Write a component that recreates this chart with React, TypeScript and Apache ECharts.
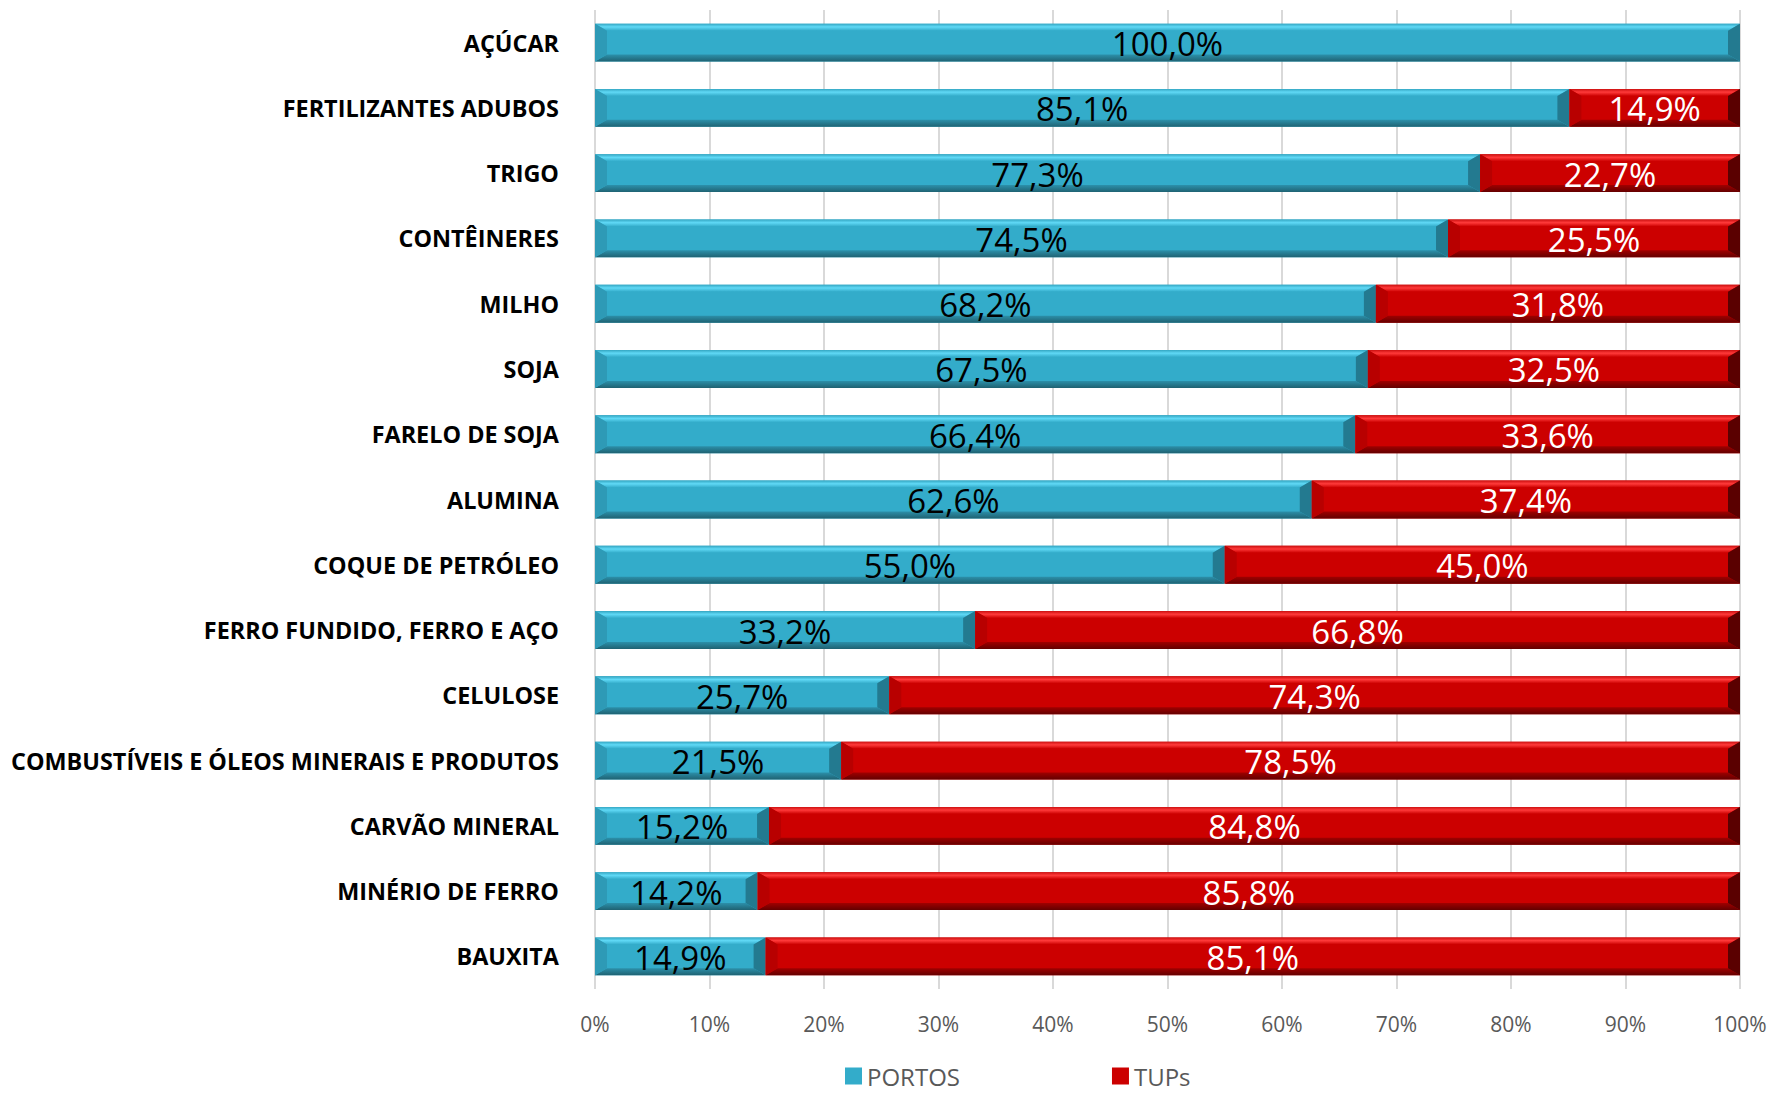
import React, { useEffect, useRef } from "react";
import * as echarts from "echarts";

const categories = [
  "AÇÚCAR",
  "FERTILIZANTES ADUBOS",
  "TRIGO",
  "CONTÊINERES",
  "MILHO",
  "SOJA",
  "FARELO DE SOJA",
  "ALUMINA",
  "COQUE DE PETRÓLEO",
  "FERRO FUNDIDO, FERRO E AÇO",
  "CELULOSE",
  "COMBUSTÍVEIS E ÓLEOS MINERAIS E PRODUTOS",
  "CARVÃO MINERAL",
  "MINÉRIO DE FERRO",
  "BAUXITA",
];
const portos = [100.0, 85.1, 77.3, 74.5, 68.2, 67.5, 66.4, 62.6, 55.0, 33.2, 25.7, 21.5, 15.2, 14.2, 14.9];
const tups = [0, 14.9, 22.7, 25.5, 31.8, 32.5, 33.6, 37.4, 45.0, 66.8, 74.3, 78.5, 84.8, 85.8, 85.1];
const xTicks = [0, 10, 20, 30, 40, 50, 60, 70, 80, 90, 100];

const FONT = "'Open Sans', 'DejaVu Sans', sans-serif";
const fmt = (v: number) => v.toFixed(1).replace(".", ",") + "%";

type Pal = { center: string; topHi: string; topLo: string; botHi: string; botLo: string; left: string; right: string; text: string };
const BLUE: Pal = {
  center: "#33acca",
  topHi: "#34a6c2",
  topLo: "#60d9f6",
  botHi: "#2c90aa",
  botLo: "#1f6272",
  left: "#2e9ab6",
  right: "#237a90",
  text: "#000000",
};
const RED: Pal = {
  center: "#cc0000",
  topHi: "#cc1010",
  topLo: "#ff3a3a",
  botHi: "#a00000",
  botLo: "#640000",
  left: "#b80000",
  right: "#5a0000",
  text: "#ffffff",
};

function makeRender(pal: Pal) {
  return (params: any, api: any) => {
    const idx = api.value(0);
    const base = api.value(1);
    const val = api.value(2);
    if (!(val > 0)) return { type: "group", children: [] };
    const p0 = api.coord([base, idx]);
    const p1 = api.coord([base + val, idx]);
    const h = api.size([0, 1])[1] * 0.58;
    const x0 = p0[0];
    const x1 = p1[0];
    const y0 = p0[1] - h / 2;
    const y1 = p0[1] + h / 2;
    const w = x1 - x0;
    const bx = Math.min(12, w / 2);
    const by = 7;
    return {
      type: "group",
      children: [
        { type: "rect", shape: { x: x0, y: y0, width: w, height: h }, style: { fill: pal.center } },
        {
          type: "polygon",
          shape: { points: [[x0, y0], [x1, y0], [x1 - bx, y0 + by], [x0 + bx, y0 + by]] },
          style: {
            fill: new echarts.graphic.LinearGradient(0, 0, 0, 1, [
              { offset: 0, color: pal.topHi },
              { offset: 0.45, color: pal.topLo },
              { offset: 1, color: pal.center },
            ]),
          },
        },
        {
          type: "polygon",
          shape: { points: [[x0, y1], [x1, y1], [x1 - bx, y1 - by], [x0 + bx, y1 - by]] },
          style: {
            fill: new echarts.graphic.LinearGradient(0, 0, 0, 1, [
              { offset: 0, color: pal.botHi },
              { offset: 1, color: pal.botLo },
            ]),
          },
        },
        {
          type: "polygon",
          shape: { points: [[x0, y0], [x0 + bx, y0 + by], [x0 + bx, y1 - by], [x0, y1]] },
          style: { fill: pal.left },
        },
        {
          type: "polygon",
          shape: { points: [[x1, y0], [x1 - bx, y0 + by], [x1 - bx, y1 - by], [x1, y1]] },
          style: { fill: pal.right },
        },
        {
          type: "text",
          style: {
            text: fmt(val),
            x: (x0 + x1) / 2,
            y: p0[1] + 1,
            align: "center",
            verticalAlign: "middle",
            fill: pal.text,
            fontFamily: FONT,
            fontSize: 33,
          },
        },
      ],
    };
  };
}

export default function App() {
  const ref = useRef<HTMLDivElement>(null);
  useEffect(() => {
    document.body.style.margin = "0";
    const chart = echarts.init(ref.current!, null, { renderer: "svg" });
    const portosData = categories.map((_, i) => [i, 0, portos[i]]);
    const tupsData = categories.map((_, i) => [i, portos[i], tups[i]]);
    chart.setOption({
      animation: false,
      backgroundColor: "#ffffff",
      grid: { left: 595, right: 35, top: 10, bottom: 107, containLabel: false },
      legend: {
        top: 1064,
        left: 845,
        padding: 0,
        itemWidth: 17,
        itemHeight: 17,
        itemGap: 152,
        icon: "rect",
        textStyle: { fontFamily: FONT, fontSize: 24, color: "#595959" },
        data: ["PORTOS", "TUPs"],
      },
      xAxis: {
        type: "value",
        min: 0,
        max: 100,
        interval: 10,
        axisLine: { show: false },
        axisTick: { show: false },
        splitLine: { show: true, lineStyle: { color: "#d9d9d9", width: 2 } },
        axisLabel: {
          formatter: (v: number) => (xTicks.includes(v) ? v + "%" : ""),
          fontFamily: FONT,
          fontSize: 21,
          color: "#595959",
          margin: 24,
        },
      },
      yAxis: {
        type: "category",
        data: categories,
        inverse: true,
        axisLine: { show: false },
        axisTick: { show: false },
        axisLabel: {
          fontFamily: FONT,
          fontSize: 23.4,
          fontWeight: "bold",
          color: "#000000",
          margin: 36,
        },
      },
      series: [
        {
          name: "PORTOS",
          type: "custom",
          renderItem: makeRender(BLUE),
          encode: { x: [1, 2], y: 0 },
          itemStyle: { color: "#33acca" },
          data: portosData,
        },
        {
          name: "TUPs",
          type: "custom",
          renderItem: makeRender(RED),
          encode: { x: [1, 2], y: 0 },
          itemStyle: { color: "#cc0000" },
          data: tupsData,
        },
      ],
    });
    return () => chart.dispose();
  }, []);
  return (
    <div
      ref={ref}
      style={{ position: "fixed", left: 0, top: 0, width: 1775, height: 1096 }}
    />
  );
}
